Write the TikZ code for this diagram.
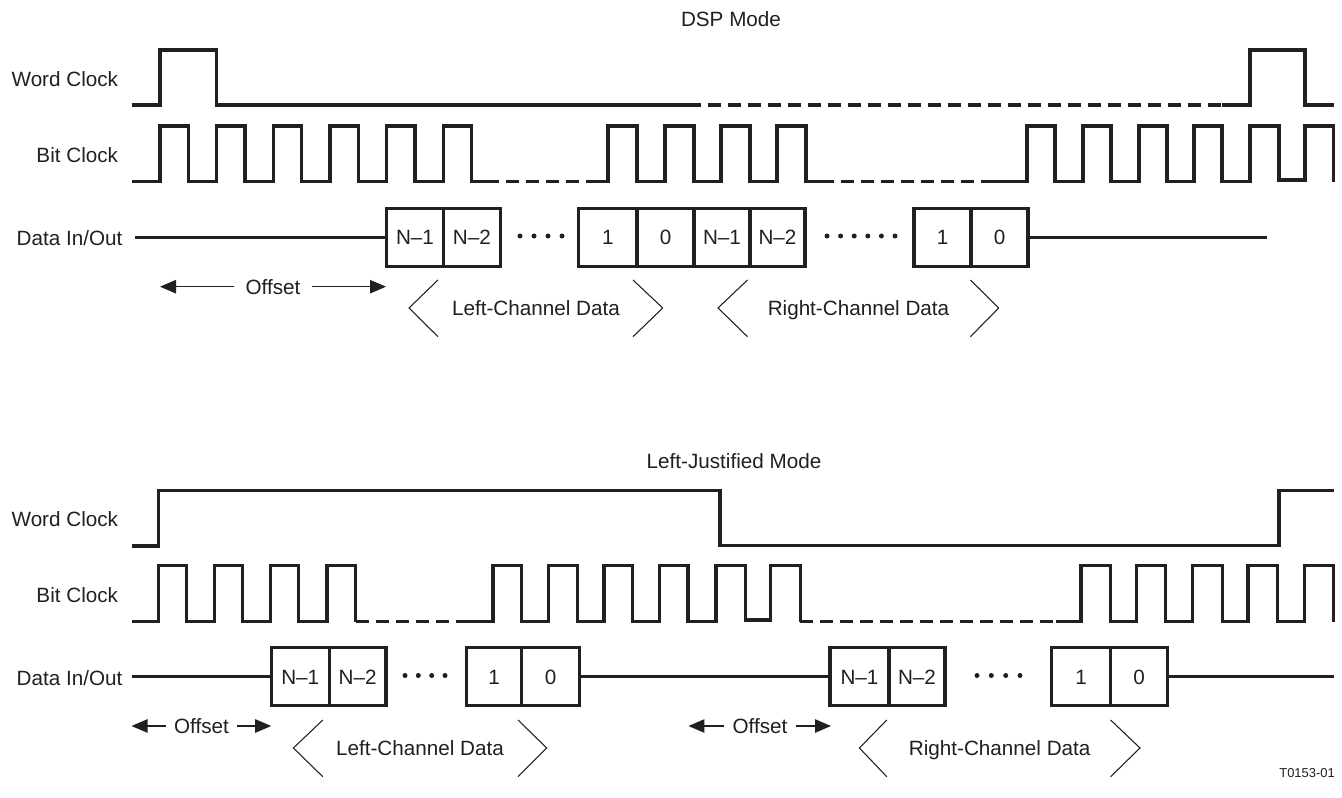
\documentclass[tikz,border=0pt]{standalone}
\usepackage{fontspec}
\setmainfont{Liberation Sans}
\usetikzlibrary{arrows.meta}
\definecolor{ink}{RGB}{35,31,32}
\begin{document}
\begin{tikzpicture}[x=0.75pt,y=-0.75pt,
  font=\fontsize{15.5pt}{18pt}\selectfont,
  wave/.style={draw=ink,line width=2.3pt},
  dwave/.style={wave,dash pattern=on 9.75pt off 5.25pt},
  lbl/.style={inner sep=0pt,text height=11.1pt,text depth=0pt,text=ink,anchor=east},
  databox/.style={draw=ink,line width=2.3pt,inner sep=0pt,minimum width={#1*0.75pt},minimum height=43.8pt,text height=11.1pt,text depth=0pt,text=ink},
  chev/.style={draw=ink,line width=0.8pt},
  offarr/.style={draw=ink,line width=1.1pt,-{Triangle[length=12pt,width=10pt]}},
  offtxt/.style={inner xsep=#1,inner ysep=0pt,text height=11.1pt,text depth=0pt,text=ink},
  ttl/.style={inner sep=0pt,text height=11.1pt,text depth=0pt,text=ink},
  bullet/.style={fill=ink}
]
\useasboundingbox (0,0) rectangle (1342,798);
\fill[white] (0,0) rectangle (1342,798);

% ================= DSP MODE =================
\node[ttl] (t1) at (731,19) {DSP Mode};
\node[lbl] (wc1) at (118.3,79) {Word Clock};
\node[lbl] (bc1) at (118.3,155) {Bit Clock};
\node[lbl] (dl1) at (122.7,237.7) {Data In/Out};

% word clock
\draw[wave] (131.7,105) -- (160,105) -- (160,50) -- (216.7,50) -- (216.7,105) -- (688,105);
\draw[dwave] (688,105) -- (1222,105);
\draw[wave] (1222,105) -- (1250,105) -- (1250,50) -- (1305,50) -- (1305,105) -- (1333.5,105);

% bit clock
\draw[wave] (131.7,181.7) \foreach \r/\f in {160/188.3,216.7/245,273.3/301.7,330/358.3,386.6/415,443.3/471.7}{ -- (\r,181.7) -- (\r,126) -- (\f,126) -- (\f,181.7)} -- (485.5,181.7);
\draw[dwave] (485.5,181.7) -- (592.6,181.7);
\draw[wave] (592.6,181.7) \foreach \r/\f in {608/637,665/694,721/750,777/806}{ -- (\r,181.7) -- (\r,126) -- (\f,126) -- (\f,181.7)} -- (821,181.7);
\draw[dwave] (821,181.7) -- (994,181.7);
\draw[wave] (994,181.7) \foreach \r/\f in {1027/1055,1083/1111,1139/1167,1194/1222}{ -- (\r,181.7) -- (\r,126) -- (\f,126) -- (\f,181.7)}
  -- (1250,181.7) -- (1250,126) -- (1279,126) -- (1279,180) -- (1305,180) -- (1305,126) -- (1333.5,126) -- (1333.5,181.7);

% data
\node[databox=56.7] (uL1) at (415,237.5) {N–1};
\node[databox=57.2] (uL2) at (471.9,237.5) {N–2};
\node[databox=58.5] (uL3) at (607.75,237.5) {1};
\node[databox=57] (uL4) at (665.5,237.5) {0};
\node[databox=56] (uR1) at (722,237.5) {N–1};
\node[databox=55] (uR2) at (777.5,237.5) {N–2};
\node[databox=57] (uR3) at (942.5,237.5) {1};
\node[databox=57] (uR4) at (999.5,237.5) {0};
\coordinate (ud0) at (135,237.5);
\coordinate (ud1) at (1267,237.5);
\draw[wave] (ud0) -- (uL1.west);
\draw[wave] (uR4.east) -- (ud1);
\foreach \x in {520,534,548,562} \fill[bullet] (\x,236) circle[radius=2.5];
\foreach \x in {827,840.6,854.2,867.8,881.4,895} \fill[bullet] (\x,236) circle[radius=2.5];

% offset
\node[offtxt=8.25pt] (uoff) at (273,286.7) {Offset};
\coordinate (uoffL) at (160,286.7);
\coordinate (uoffR) at (386,286.7);
\draw[offarr] (uoff.west) -- (uoffL);
\draw[offarr] (uoff.east) -- (uoffR);

% channel brackets
\node[ttl] (ulch) at (536,308) {Left-Channel Data};
\draw[chev] (438,280) -- (409,308) -- (438,336.7);
\draw[chev] (633,280) -- (662.7,308) -- (633,336.7);
\node[ttl] (urch) at (858.5,308) {Right-Channel Data};
\draw[chev] (747.5,280) -- (718,308) -- (747.5,336.7);
\draw[chev] (970.4,280) -- (998.7,308) -- (970.4,336.7);

% ================= LEFT-JUSTIFIED MODE =================
\node[ttl] (t2) at (734,461) {Left-Justified Mode};
\node[lbl] (wc2) at (118.3,519) {Word Clock};
\node[lbl] (bc2) at (118.3,595) {Bit Clock};
\node[lbl] (dl2) at (122.7,677.7) {Data In/Out};

% word clock
\draw[wave] (131.7,546) -- (158.3,546) -- (158.3,490.7) -- (720,490.7) -- (720,545.5) -- (1279,545.5) -- (1279,490.7) -- (1333.5,490.7);

% bit clock
\draw[wave] (131.7,621.7) \foreach \r/\f in {158.3/186.4,214.5/242.6,270.7/298.8,327/355.5}{ -- (\r,621.7) -- (\r,565.7) -- (\f,565.7) -- (\f,621.7)};
\draw[dwave] (355.5,621.7) -- (464.4,621.7);
\draw[wave] (464.4,621.7) \foreach \r/\f in {493/521.8,548.6/577.3,604/632.8,659.6/688}{ -- (\r,621.7) -- (\r,565.7) -- (\f,565.7) -- (\f,621.7)}
  -- (716,621.7) -- (716,565.7) -- (745.4,565.7) -- (745.4,620) -- (770.8,620) -- (770.8,565.7) -- (800.3,565.7) -- (800.3,621.7);
\draw[dwave] (800.3,621.7) -- (1055.7,621.7);
\draw[wave] (1055.7,621.7) \foreach \r/\f in {1081/1110.5,1136.5/1165.4,1192.5/1222.4,1248/1277.3}{ -- (\r,621.7) -- (\r,565.7) -- (\f,565.7) -- (\f,621.7)}
  -- (1304.7,621.7) -- (1304.7,565.7) -- (1333.5,565.7) -- (1333.5,621.7);

% data
\node[databox=58.1] (lL1) at (300.25,676.7) {N–1};
\node[databox=56.7] (lL2) at (357.65,676.7) {N–2};
\node[databox=55.5] (lL3) at (494,676.7) {1};
\node[databox=57.4] (lL4) at (550.5,676.7) {0};
\node[databox=59] (lR1) at (859.5,676.7) {N–1};
\node[databox=56] (lR2) at (917,676.7) {N–2};
\node[databox=59.1] (lR3) at (1081,676.7) {1};
\node[databox=56.9] (lR4) at (1139,676.7) {0};
\coordinate (ld0) at (131.7,676.7);
\coordinate (ld1) at (1333.5,676.7);
\draw[wave] (ld0) -- (lL1.west);
\draw[wave] (lL4.east) -- (lR1.west);
\draw[wave] (lR4.east) -- (ld1);
\foreach \x in {405,418.3,431.7,445} \fill[bullet] (\x,675.5) circle[radius=2.5];
\foreach \x in {977,991.3,1005.7,1020} \fill[bullet] (\x,675.5) circle[radius=2.5];

% offsets
\node[offtxt=6pt] (loff1) at (201.5,726) {Offset};
\coordinate (loff1L) at (131.5,726);
\coordinate (loff1R) at (271.2,726);
\draw[offarr] (loff1.west) -- (loff1L);
\draw[offarr] (loff1.east) -- (loff1R);
\node[offtxt=6pt] (loff2) at (760,726) {Offset};
\coordinate (loff2L) at (688.4,726);
\coordinate (loff2R) at (831,726);
\draw[offarr] (loff2.west) -- (loff2L);
\draw[offarr] (loff2.east) -- (loff2R);

% channel brackets
\node[ttl] (llch) at (420,748) {Left-Channel Data};
\draw[chev] (322.8,720) -- (293.4,748) -- (322.8,776.7);
\draw[chev] (518,720) -- (546.7,748) -- (518,776.7);
\node[ttl] (lrch) at (999.7,748) {Right-Channel Data};
\draw[chev] (886.8,720) -- (859.4,748) -- (886.8,776.7);
\draw[chev] (1110.6,720) -- (1140,748) -- (1110.6,776.7);

\node[inner sep=0pt,anchor=east,text=ink,font=\fontsize{9.7pt}{11pt}\selectfont] (tag) at (1335,773) {T0153-01};
\end{tikzpicture}
\end{document}
